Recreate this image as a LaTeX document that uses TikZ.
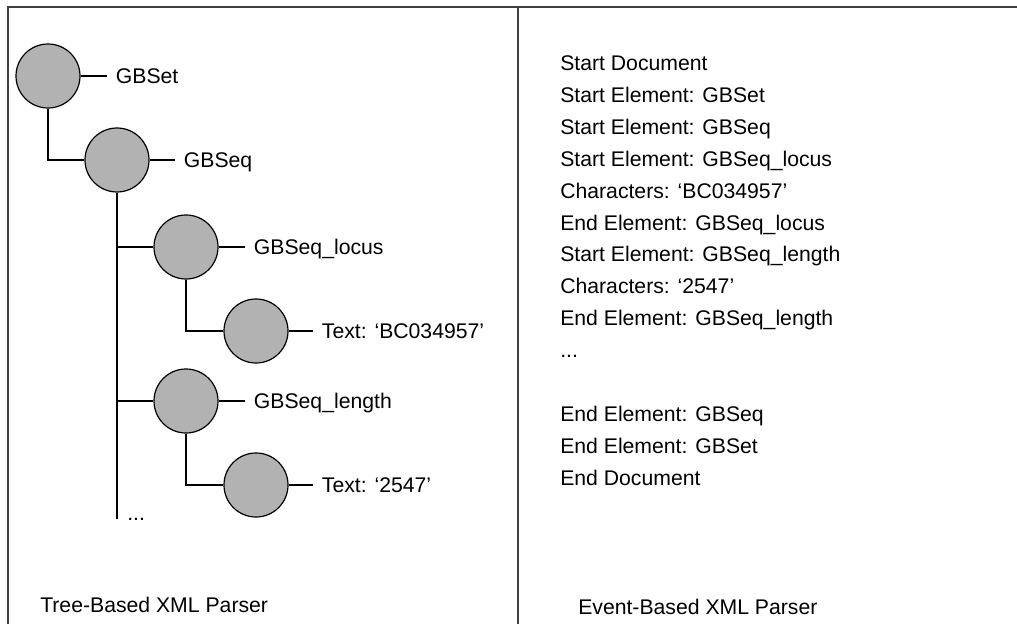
\documentclass[tikz,border=0pt]{standalone}
\usepackage{fontspec}
\setmainfont{Liberation Sans}
\begin{document}
\begin{tikzpicture}[x=0.75pt,y=-0.75pt,
  font=\fontsize{15.9}{19}\selectfont,
  frame/.style={draw=black!75, line width=1.5pt, line join=miter},
  elem/.style={circle, draw=black, line width=0.9pt, fill=black!30,
    minimum size=48pt, inner sep=0pt},
  link/.style={draw=black, line width=0.9pt},
  lbl/.style={anchor=west, inner xsep=6.5pt, inner ysep=0pt,
    text height=11.3pt, text depth=0pt},
  txt/.style={anchor=base west, inner sep=0pt}]
\useasboundingbox (0,0) rectangle (1017,624);

% outer frame and divider between the two panels
\draw[frame] (8,624) -- (8,7) -- (1017,7);
\draw[frame] (517.5,7) -- (517.5,624);

% ---- tree-based parser: document tree ----
\node[elem] (set)    at (48,76)  {};
\node[elem] (seq)    at (117,160) {};
\node[elem] (locus)  at (186,247) {};
\node[elem] (bc)     at (256,331) {};
\node[elem] (length) at (186,401) {};
\node[elem] (num)    at (256,485) {};

\node[lbl] (setlbl)    at (107,76)  {GBSet};
\node[lbl] (seqlbl)    at (175,160) {GBSeq};
\node[lbl] (locuslbl)  at (245,247) {GBSeq\_locus};
\node[lbl] (bclbl)     at (313,331) {Text: ‘BC034957’};
\node[lbl] (lengthlbl) at (245,401) {GBSeq\_length};
\node[lbl] (numlbl)    at (313,485) {Text: ‘2547’};

\coordinate (trunkend) at (117,519);
\node[txt] (more) at (127,520) {...};

\draw[link] (set.south) |- (seq.west);
\draw[link] (seq.south) -- (trunkend);
\draw[link] (seq.south |- locus.west) -- (locus.west);
\draw[link] (seq.south |- length.west) -- (length.west);
\draw[link] (locus.south) |- (bc.west);
\draw[link] (length.south) |- (num.west);

\draw[link] (set.east) -- (setlbl.west);
\draw[link] (seq.east) -- (seqlbl.west);
\draw[link] (locus.east) -- (locuslbl.west);
\draw[link] (bc.east) -- (bclbl.west);
\draw[link] (length.east) -- (lengthlbl.west);
\draw[link] (num.east) -- (numlbl.west);

\node[txt] (treecap) at (40,612.5) {Tree-Based XML Parser};

% ---- event-based parser: event stream ----
\foreach \i/\t in {0/Start Document,
                   1/Start Element: GBSet,
                   2/Start Element: GBSeq,
                   3/Start Element: GBSeq\_locus,
                   4/Characters: ‘BC034957’,
                   5/End Element: GBSeq\_locus,
                   6/Start Element: GBSeq\_length,
                   7/Characters: ‘2547’,
                   8/End Element: GBSeq\_length,
                   11/End Element: GBSeq,
                   12/End Element: GBSet,
                   13/End Document}
  \node[txt] (ev\i) at (560,70.5+31.9*\i) {\t};
\node[txt] (ev9) at (560,357.6) {...};

\node[txt] (eventcap) at (578,614.5) {Event-Based XML Parser};
\end{tikzpicture}
\end{document}
